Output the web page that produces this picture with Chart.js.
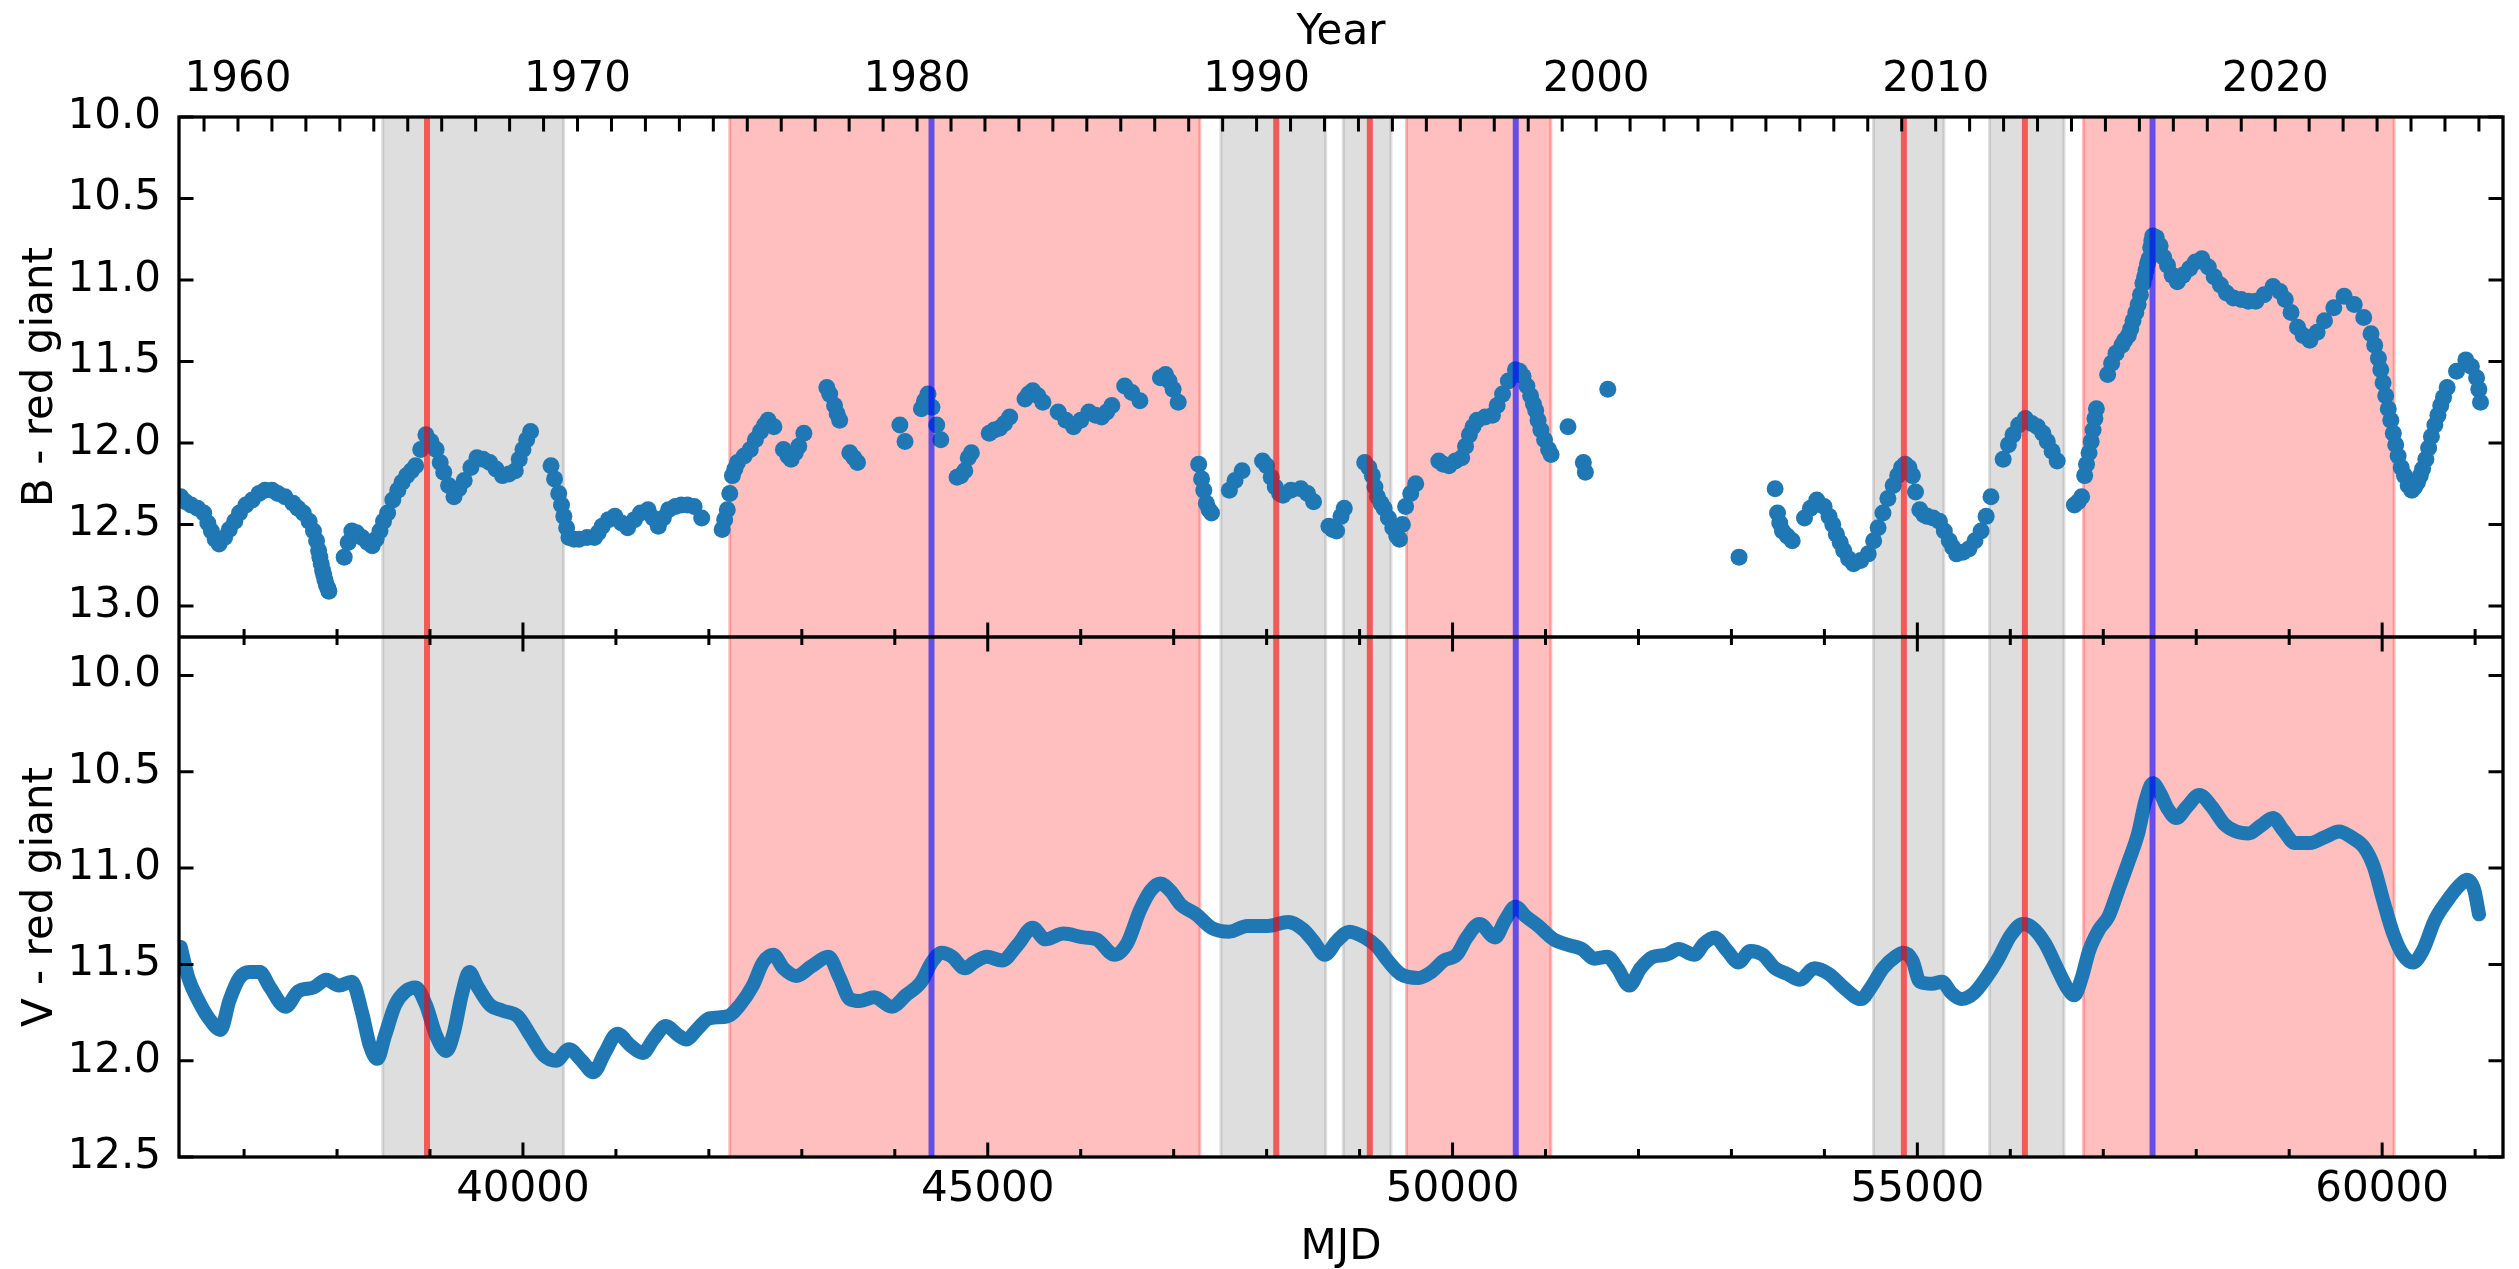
<!DOCTYPE html>
<html>
<head>
<meta charset="utf-8">
<script src="https://cdn.jsdelivr.net/npm/chart.js@4.4.1/dist/chart.umd.min.js"></script>
<style>
  html, body { margin: 0; padding: 0; background: #fff; }
</style>
</head>
<body>
<canvas id="lc" width="2519" height="1269"></canvas>
<script>
// B band light curve, red giant subtracted (scattered points)
const bMjd = [36319,36370,36429,36500,36566,36610,36648,36690,36731,36790,36841,36900,36951,37020,37088,37160,37225,37300,37363,37440,37527,37580,37637,37700,37747,37780,37802,37815,37830,37845,37857,37870,37885,37900,37912,
  38077,38120,38159,38210,38269,38330,38379,38420,38462,38500,38544,38600,38654,38700,38750,38800,38846,38900,38956,39010,39066,39110,39148,39200,39258,39310,39368,39440,39505,39570,39643,39710,39780,39850,39918,39960,40000,40040,40082,
  40302,40340,40385,40415,40440,40470,40495,40550,40604,40690,40769,40810,40852,40920,40989,41060,41126,41200,41264,41346,41400,41456,41510,41566,41640,41703,41770,41841,41923,
  42143,42170,42198,42225,42253,42280,42308,42380,42445,42500,42555,42600,42637,42700,42802,42850,42885,42930,42967,43022,
  43269,43300,43352,43380,43407,43516,43560,43599,44055,44110,44286,44320,44357,44400,44451,44495,44670,44710,44753,44790,44824,
  45016,45070,45126,45180,45236,45401,45440,45484,45540,45593,45758,45840,45923,46000,46088,46160,46225,46280,46335,46473,46550,46637,46857,46912,46950,46994,47049,
  47269,47300,47324,47352,47380,47407,47599,47660,47736,47956,48000,48050,48093,48140,48176,48260,48368,48440,48505,48670,48710,48753,48800,48835,
  49055,49100,49137,49165,49192,49230,49264,49310,49357,49400,49429,49460,49495,49550,49604,
  49852,49900,49962,50030,50099,50140,50181,50220,50264,50350,50429,50480,50538,50600,50676,50720,50758,50800,50840,50870,50895,50920,50950,50990,51033,51060,
  51242,51407,51429,51670,53082,
  53470,53496,53520,53549,53600,53654,53786,53850,53918,53997,54050,54090,54129,54170,54208,54260,54314,54390,54472,54530,54578,54630,54683,54740,54789,54830,54868,54910,54947,54980,55026,55070,55106,55170,55237,55290,55343,55380,55422,55490,55554,55620,55686,55740,55792,
  55923,55980,56029,56090,56161,56230,56293,56350,56398,56450,56504,
  56689,56730,56768,56800,56820,56847,56870,56890,56910,56926,
  57047,57090,57137,57200,57230,57269,57295,57320,57350,57375,57400,57427,57445,57460,57475,57491,57510,57522,57533,57570,57612,57650,57691,57740,57797,57860,57929,57990,58061,58130,58193,58260,58325,58400,58483,58560,58641,58730,58826,58900,58958,59020,59090,59150,59222,59300,59380,59480,59591,59700,59802,59880,59920,59960,59985,60010,60038,60066,60093,60120,60146,60172,60205,60240,60280,60319,60350,60380,60410,60435,60470,60500,60530,60567,60600,60630,60660,60699,60800,60900,60960,61016,61040,61058];
const bMag = [12.33,12.36,12.38,12.40,12.43,12.49,12.54,12.59,12.62,12.58,12.53,12.48,12.43,12.38,12.35,12.31,12.29,12.29,12.31,12.33,12.37,12.40,12.43,12.48,12.54,12.60,12.66,12.70,12.74,12.78,12.81,12.84,12.87,12.89,12.91,
  12.70,12.61,12.54,12.55,12.58,12.61,12.63,12.59,12.54,12.48,12.43,12.35,12.29,12.24,12.20,12.17,12.14,12.04,11.95,11.99,12.04,12.12,12.18,12.26,12.33,12.28,12.23,12.15,12.09,12.10,12.12,12.16,12.20,12.19,12.17,12.10,12.04,11.98,11.93,
  12.14,12.22,12.31,12.38,12.45,12.52,12.58,12.59,12.59,12.58,12.58,12.55,12.51,12.47,12.45,12.49,12.52,12.47,12.43,12.41,12.46,12.51,12.46,12.41,12.39,12.38,12.38,12.39,12.46,
  12.53,12.47,12.41,12.31,12.20,12.16,12.12,12.08,12.04,11.98,11.93,11.89,11.86,11.90,12.04,12.08,12.10,12.06,12.02,11.94,
  11.66,11.70,11.77,11.82,11.86,12.06,12.09,12.12,11.89,11.99,11.79,11.74,11.70,11.78,11.89,11.98,12.21,12.20,12.17,12.09,12.06,
  11.94,11.92,11.91,11.88,11.84,11.73,11.70,11.68,11.71,11.75,11.81,11.86,11.90,11.86,11.81,11.83,11.84,11.81,11.77,11.65,11.69,11.74,11.60,11.58,11.62,11.67,11.75,
  12.13,12.22,12.29,12.37,12.41,12.43,12.29,12.23,12.17,12.11,12.14,12.21,12.27,12.31,12.32,12.29,12.28,12.31,12.36,12.51,12.53,12.54,12.45,12.40,
  12.12,12.15,12.20,12.27,12.33,12.37,12.40,12.46,12.52,12.57,12.59,12.50,12.39,12.31,12.25,
  12.11,12.13,12.14,12.11,12.09,12.02,11.95,11.90,11.86,11.84,11.83,11.77,11.70,11.62,11.55,11.56,11.59,11.65,11.71,11.76,11.80,11.86,11.92,11.98,12.04,12.07,
  11.90,12.12,12.18,11.67,12.70,
  12.28,12.43,12.49,12.54,12.57,12.60,12.46,12.40,12.35,12.39,12.45,12.50,12.56,12.61,12.66,12.71,12.74,12.72,12.68,12.60,12.52,12.43,12.34,12.26,12.20,12.15,12.13,12.15,12.20,12.30,12.41,12.44,12.45,12.46,12.48,12.54,12.60,12.64,12.68,12.67,12.65,12.60,12.54,12.45,12.33,
  12.10,12.01,11.95,11.89,11.85,11.88,11.90,11.94,11.99,12.05,12.11,
  12.38,12.36,12.33,12.20,12.13,12.06,11.99,11.92,11.85,11.79,
  11.58,11.51,11.45,11.40,11.37,11.34,11.30,11.25,11.20,11.15,11.09,11.02,10.98,10.94,10.90,10.87,10.80,10.76,10.73,10.74,10.79,10.86,10.91,10.97,11.01,10.97,10.93,10.89,10.87,10.92,10.98,11.03,11.08,11.11,11.12,11.13,11.13,11.09,11.04,11.07,11.12,11.20,11.29,11.34,11.37,11.32,11.25,11.17,11.10,11.15,11.23,11.33,11.40,11.48,11.55,11.63,11.71,11.79,11.86,11.94,12.01,12.08,12.15,12.20,12.26,12.29,12.27,12.24,12.20,12.16,12.10,12.03,11.96,11.89,11.83,11.77,11.72,11.66,11.56,11.49,11.53,11.60,11.67,11.75];

// V band light curve, red giant subtracted (dense, drawn as a thick trace)
const vMjd = [36319,36401,36511,36621,36747,36841,36951,37060,37170,37280,37445,37582,37747,37885,38022,38159,38269,38352,38434,38516,38626,38736,38846,38956,39066,39176,39258,39341,39423,39505,39643,39780,39945,
  40082,40220,40357,40495,40632,40758,40879,41016,41154,41291,41401,41538,41676,41758,41868,42005,42198,42335,42473,42582,42692,42802,42940,43104,43286,43407,43516,43626,43780,43967,44121,44286,44396,44505,44615,44753,44852,44989,
  45154,45319,45484,45621,45813,46033,46170,46363,46500,46637,46747,46857,46967,47077,47242,47407,47599,47791,48011,48231,48396,48505,48626,48753,48890,49055,49192,49302,49440,49632,49769,49907,
  50044,50154,50291,50456,50566,50676,50786,50923,51088,51253,51390,51527,51665,51775,51901,52022,52159,52297,52434,52599,52709,52819,52956,53077,53203,53338,53470,53602,53734,53892,
  54050,54208,54393,54499,54631,54763,54852,54947,55026,55158,55264,55369,55475,55607,55739,55871,56003,56135,56240,56372,56504,56609,56689,56768,56847,56953,
  57058,57164,57269,57375,57454,57533,57612,57691,57786,57902,58034,58166,58298,58430,58562,58694,58826,58931,59063,59222,59380,59538,59670,59802,59908,
  60013,60119,60224,60330,60435,60567,60699,60831,60910,60989,61042];
const vMag = [11.41,11.57,11.69,11.78,11.84,11.69,11.57,11.54,11.54,11.62,11.72,11.64,11.62,11.58,11.61,11.59,11.75,11.92,11.99,11.87,11.71,11.64,11.62,11.71,11.87,11.95,11.85,11.66,11.54,11.61,11.71,11.74,11.77,
  11.87,11.97,12.00,11.94,12.00,12.06,11.96,11.86,11.92,11.96,11.89,11.82,11.87,11.89,11.84,11.78,11.77,11.71,11.61,11.49,11.45,11.52,11.56,11.51,11.46,11.57,11.68,11.69,11.67,11.72,11.66,11.59,11.49,11.44,11.46,11.52,11.49,11.46,
  11.48,11.40,11.31,11.37,11.34,11.36,11.37,11.45,11.39,11.22,11.12,11.08,11.12,11.19,11.24,11.31,11.33,11.30,11.30,11.28,11.32,11.38,11.45,11.38,11.33,11.36,11.41,11.48,11.55,11.57,11.54,11.48,
  11.45,11.36,11.29,11.36,11.27,11.20,11.25,11.30,11.37,11.40,11.42,11.47,11.46,11.52,11.61,11.52,11.46,11.45,11.42,11.45,11.39,11.36,11.43,11.49,11.43,11.45,11.52,11.55,11.58,11.52,
  11.55,11.62,11.68,11.62,11.52,11.46,11.44,11.48,11.59,11.60,11.59,11.65,11.68,11.65,11.57,11.47,11.35,11.29,11.31,11.39,11.52,11.62,11.66,11.57,11.43,11.32,
  11.25,11.11,10.97,10.82,10.65,10.56,10.61,10.69,10.74,10.68,10.62,10.68,10.77,10.81,10.82,10.78,10.74,10.80,10.87,10.87,10.84,10.81,10.84,10.89,10.99,
  11.17,11.34,11.45,11.49,11.43,11.27,11.17,11.09,11.06,11.11,11.24];

// shaded epochs and marked dates (MJD)
const grayStart = [38492, 47508, 48825, 54528, 55777];
const grayEnd = [40437, 48635, 49337, 55285, 56578];
const pinkStart = [42224, 49505, 56787];
const pinkEnd = [47282, 51057, 60129];
const redLines = [38968, 48103, 49110, 54855, 56157];
const blueLines = [44395, 50680, 57530];

// axis ticks
const mjdLabels = [40000, 45000, 50000, 55000, 60000];
const yearLabels = [1960, 1970, 1980, 1990, 2000, 2010, 2020];
const bTicks = [10.0, 10.5, 11.0, 11.5, 12.0, 12.5, 13.0];
const vTicks = [10.0, 10.5, 11.0, 11.5, 12.0, 12.5];

function mjdOf(year) {
    return 51544.5 + 365.25 * (year - 2000);
}

const font = { family: "'DejaVu Sans', sans-serif", size: 42, lineHeight: 1 };

// shaded spans under the data, lines + frame + inward ticks on top
const decor = {
    id: 'decor',
    beforeDatasetsDraw(chart) {
        const { ctx, chartArea: a } = chart;
        const x = chart.scales.x;
        ctx.save();
        function span(s, e, col) {
            const x0 = x.getPixelForValue(s);
            const x1 = x.getPixelForValue(e);
            ctx.fillStyle = col;
            ctx.fillRect(x0, a.top, x1 - x0, a.bottom - a.top);
            ctx.strokeStyle = col;
            ctx.lineWidth = 3;
            ctx.beginPath();
            ctx.moveTo(x0, a.top); ctx.lineTo(x0, a.bottom);
            ctx.moveTo(x1, a.top); ctx.lineTo(x1, a.bottom);
            ctx.stroke();
        }
        grayStart.forEach((s, i) => span(s, grayEnd[i], 'rgba(128,128,128,0.26)'));
        pinkStart.forEach((s, i) => span(s, pinkEnd[i], 'rgba(255,0,0,0.25)'));
        ctx.restore();
    },
    afterDatasetsDraw(chart) {
        const { ctx, chartArea: a } = chart;
        const x = chart.scales.x, yB = chart.scales.yB, yV = chart.scales.yV;
        const mid = yB.bottom;
        ctx.save();

        ctx.lineWidth = 6;
        function vline(m, col) {
            const px = x.getPixelForValue(m);
            ctx.strokeStyle = col;
            ctx.beginPath();
            ctx.moveTo(px, a.top); ctx.lineTo(px, a.bottom);
            ctx.stroke();
        }
        redLines.forEach(m => vline(m, 'rgba(255,0,0,0.6)'));
        blueLines.forEach(m => vline(m, 'rgba(0,0,255,0.6)'));

        ctx.strokeStyle = '#000';
        ctx.lineWidth = 3;
        ctx.beginPath();
        for (let m = 37000; m <= 61000; m += 1000) {
            const px = x.getPixelForValue(m);
            const len = m % 5000 === 0 ? 14.5 : 8;
            ctx.moveTo(px, a.bottom); ctx.lineTo(px, a.bottom - len);
            ctx.moveTo(px, mid); ctx.lineTo(px, mid - len);
            ctx.moveTo(px, mid); ctx.lineTo(px, mid + len);
        }
        for (let yr = 1959; yr <= 2026; yr++) {
            const px = x.getPixelForValue(mjdOf(yr));
            ctx.moveTo(px, a.top); ctx.lineTo(px, a.top + 14.5);
        }
        bTicks.forEach(v => {
            const py = yB.getPixelForValue(v);
            ctx.moveTo(a.left, py); ctx.lineTo(a.left + 14.5, py);
            ctx.moveTo(a.right, py); ctx.lineTo(a.right - 14.5, py);
        });
        vTicks.forEach(v => {
            const py = yV.getPixelForValue(v);
            ctx.moveTo(a.left, py); ctx.lineTo(a.left + 14.5, py);
            ctx.moveTo(a.right, py); ctx.lineTo(a.right - 14.5, py);
        });
        ctx.stroke();

        ctx.lineWidth = 3.3;
        ctx.strokeRect(a.left, a.top, a.right - a.left, a.bottom - a.top);
        ctx.beginPath();
        ctx.moveTo(a.left, mid); ctx.lineTo(a.right, mid);
        ctx.stroke();
        ctx.restore();
    }
};

function yScale(lo, hi, ticks, label) {
    return {
        type: 'linear', position: 'left', stack: 'panels', stackWeight: 1,
        reverse: true, min: lo, max: hi,
        grid: { display: false, drawTicks: false }, border: { display: false },
        afterBuildTicks: s => { s.ticks = ticks.map(v => ({ value: v })); },
        afterFit: s => { s.width = 179; },
        ticks: { padding: 18, autoSkip: false, color: '#000', font: font, callback: v => v.toFixed(1) },
        title: { display: true, text: label, color: '#000', font: font, padding: { top: 20, bottom: 0 } }
    };
}

new Chart(document.getElementById('lc'), {
    type: 'scatter',
    data: {
        datasets: [{
            label: 'B',
            data: bMjd.map((m, i) => ({ x: m, y: bMag[i] })),
            xAxisID: 'x', yAxisID: 'yB',
            pointRadius: 8.5, pointBorderWidth: 0,
            pointBackgroundColor: '#1f77b4'
        }, {
            label: 'V',
            data: vMjd.map((m, i) => ({ x: m, y: vMag[i] })),
            xAxisID: 'x', yAxisID: 'yV',
            showLine: true, pointRadius: 0,
            borderColor: '#1f77b4', borderWidth: 14,
            cubicInterpolationMode: 'monotone',
            borderCapStyle: 'round', borderJoinStyle: 'round'
        }]
    },
    options: {
        responsive: false,
        devicePixelRatio: 1,
        animation: false,
        events: [],
        layout: { padding: { left: 0, right: 16, top: 0, bottom: 0 } },
        plugins: { legend: { display: false }, tooltip: { enabled: false } },
        scales: {
            x: {
                type: 'linear', position: 'bottom', min: 36300, max: 61300,
                grid: { display: false, drawTicks: false }, border: { display: false },
                afterBuildTicks: s => { s.ticks = mjdLabels.map(v => ({ value: v })); },
                afterFit: s => { s.height = 112; },
                ticks: { padding: 12, maxRotation: 0, autoSkip: false, color: '#000', font: font, callback: v => String(v) },
                title: { display: true, text: 'MJD', color: '#000', font: font, padding: { top: 0, bottom: 0 } }
            },
            xTop: {
                type: 'linear', position: 'top', min: 36300, max: 61300,
                grid: { display: false, drawTicks: false }, border: { display: false },
                afterBuildTicks: s => { s.ticks = yearLabels.map(y => ({ value: mjdOf(y) })); },
                afterFit: s => { s.height = 117; },
                ticks: { padding: 16, maxRotation: 0, autoSkip: false, color: '#000', font: font,
                    callback: v => String(Math.round((v - 51544.5) / 365.25 + 2000)) },
                title: { display: true, text: 'Year', color: '#000', font: font, padding: { top: 12, bottom: 0 } }
            },
            yV: yScale(9.8, 12.5, vTicks, 'V - red giant'),
            yB: yScale(10.0, 13.19, bTicks, 'B - red giant')
        }
    },
    plugins: [decor]
});
</script>
</body>
</html>
